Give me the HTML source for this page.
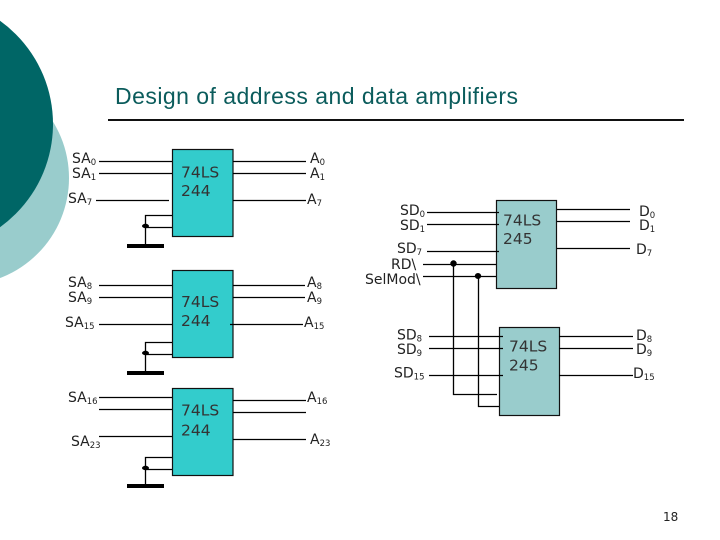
<!DOCTYPE html>
<html><head><meta charset="utf-8"><style>
html,body{margin:0;padding:0;background:#fff}
svg{display:block}
.l{font:14px "DejaVu Sans",sans-serif;fill:#222}
.s{font-size:8.5px}
.b{font:15.5px "DejaVu Sans",sans-serif;fill:#333}
.w{stroke:#000;stroke-width:1.3;fill:none}
.c{fill:#33cccc;stroke:#111;stroke-width:1.2}
.g{fill:#99cccc;stroke:#111;stroke-width:1.2}
</style></head><body>
<svg width="720" height="540" viewBox="0 0 720 540" xmlns="http://www.w3.org/2000/svg">
<circle cx="-38" cy="178" r="107" fill="#99cccc"/>
<circle cx="-74" cy="124" r="127" fill="#006666"/>
<text x="115" y="104" textLength="403" lengthAdjust="spacing" style="font:23px 'Liberation Sans',sans-serif;fill:#0b5c5c">Design of address and data amplifiers</text>
<rect x="108" y="119" width="576" height="2" fill="#111"/>

<rect class="c" x="172.500" y="149.500" width="60.500" height="87"/>
<rect class="c" x="172.500" y="270.500" width="60.500" height="87"/>
<rect class="c" x="172.500" y="388.500" width="60.500" height="87"/>
<rect class="g" x="496.500" y="200.500" width="60" height="88"/>
<rect class="g" x="499.500" y="327.500" width="60" height="88"/>

<path class="w" d="M99 161.500H172M99 173.500H172M96 200.500H169M233 161.500H306M233 173.500H306M233 200.500H306"/>
<path class="w" d="M172 215.500H145.500V246M145.500 227.500H172"/>
<ellipse cx="145.500" cy="226" rx="3.500" ry="2.200"/>
<rect x="127" y="244" width="37" height="4"/>

<path class="w" d="M99 285.500H172M99 297.500H172M99 324.500H172M233 285.500H305M233 297.500H305M230 324.500H303"/>
<path class="w" d="M172 342.500H145.500V372M145.500 354.500H172"/>
<ellipse cx="145.500" cy="353" rx="3.500" ry="2.200"/>
<rect x="127" y="371" width="37" height="4"/>

<path class="w" d="M99 397.500H172M99 409.500H172M99 436.500H172M233 400.500H306M233 412.500H306M233 439.500H306"/>
<path class="w" d="M172 457.500H145.500V487M145.500 469.500H172"/>
<ellipse cx="145.500" cy="468" rx="3.500" ry="2.200"/>
<rect x="127" y="484" width="37" height="4"/>

<path class="w" d="M427 212.500H499M427 224.500H499M427 251.500H499M423 264.500H496M423 276.500H496M557 209.500H630M557 221.500H630M557 248.500H630"/>
<path class="w" d="M453.500 263V394.500H497M478.500 276V406.500H499"/>
<circle cx="453.500" cy="263.500" r="3.200"/>
<ellipse cx="478" cy="276" rx="3.200" ry="3"/>
<path class="w" d="M429 336.500H503M429 348.500H503M429 375.500H503M559 336.500H633M559 348.500H633M559 375.500H633"/>

<text class="b" x="181" y="177.500">74LS</text><text class="b" x="181" y="196">244</text>
<text class="b" x="181" y="307">74LS</text><text class="b" x="181" y="326">244</text>
<text class="b" x="181" y="415.500">74LS</text><text class="b" x="181" y="435.500">244</text>
<text class="b" x="503" y="225.500">74LS</text><text class="b" x="503" y="244">245</text>
<text class="b" x="509" y="351.500">74LS</text><text class="b" x="509" y="370.500">245</text>

<text class="l" x="72" y="163">SA<tspan class="s" dy="2">0</tspan></text>
<text class="l" x="72" y="178">SA<tspan class="s" dy="2">1</tspan></text>
<text class="l" x="68" y="203">SA<tspan class="s" dy="2">7</tspan></text>
<text class="l" x="310" y="163">A<tspan class="s" dy="2">0</tspan></text>
<text class="l" x="310" y="178">A<tspan class="s" dy="2">1</tspan></text>
<text class="l" x="307" y="204">A<tspan class="s" dy="2">7</tspan></text>

<text class="l" x="68" y="287">SA<tspan class="s" dy="2">8</tspan></text>
<text class="l" x="68" y="302">SA<tspan class="s" dy="2">9</tspan></text>
<text class="l" x="65" y="327">SA<tspan class="s" dy="2">15</tspan></text>
<text class="l" x="307" y="287">A<tspan class="s" dy="2">8</tspan></text>
<text class="l" x="307" y="302">A<tspan class="s" dy="2">9</tspan></text>
<text class="l" x="304" y="327">A<tspan class="s" dy="2">15</tspan></text>

<text class="l" x="68" y="402">SA<tspan class="s" dy="2">16</tspan></text>
<text class="l" x="71" y="446">SA<tspan class="s" dy="2">23</tspan></text>
<text class="l" x="307" y="402">A<tspan class="s" dy="2">16</tspan></text>
<text class="l" x="310" y="444">A<tspan class="s" dy="2">23</tspan></text>

<text class="l" x="400" y="215">SD<tspan class="s" dy="2">0</tspan></text>
<text class="l" x="400" y="230">SD<tspan class="s" dy="2">1</tspan></text>
<text class="l" x="397" y="253">SD<tspan class="s" dy="2">7</tspan></text>
<text class="l" x="391" y="269">RD\</text>
<text class="l" x="365" y="284">SelMod\</text>
<text class="l" x="639" y="216">D<tspan class="s" dy="2">0</tspan></text>
<text class="l" x="639" y="230">D<tspan class="s" dy="2">1</tspan></text>
<text class="l" x="636" y="254">D<tspan class="s" dy="2">7</tspan></text>

<text class="l" x="397" y="339.500">SD<tspan class="s" dy="2">8</tspan></text>
<text class="l" x="397" y="354">SD<tspan class="s" dy="2">9</tspan></text>
<text class="l" x="394" y="377.500">SD<tspan class="s" dy="2">15</tspan></text>
<text class="l" x="636" y="340">D<tspan class="s" dy="2">8</tspan></text>
<text class="l" x="636" y="354">D<tspan class="s" dy="2">9</tspan></text>
<text class="l" x="633" y="378">D<tspan class="s" dy="2">15</tspan></text>

<text x="663" y="521" style="font:12px 'DejaVu Sans',sans-serif;fill:#222">18</text>
</svg>
</body></html>
